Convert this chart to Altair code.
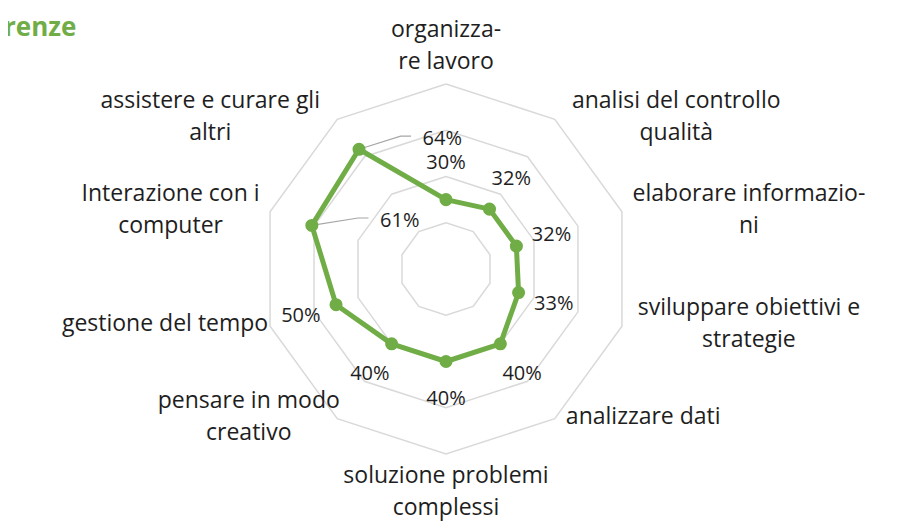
import math
import numpy as np
import pandas as pd
import altair as alt

# ---------------- data ----------------
categories = [
    "organizzare lavoro",
    "analisi del controllo qualità",
    "elaborare informazioni",
    "sviluppare obiettivi e strategie",
    "analizzare dati",
    "soluzione problemi complessi",
    "pensare in modo creativo",
    "gestione del tempo",
    "Interazione con i computer",
    "assistere e curare gli altri",
]
values = [0.30, 0.32, 0.32, 0.33, 0.40, 0.40, 0.40, 0.50, 0.61, 0.64]
label_lines = [
    ["organizza-", "re lavoro"],
    ["analisi del controllo", "qualità"],
    ["elaborare  informazio-", "ni"],
    ["sviluppare obiettivi e", "strategie"],
    ["analizzare dati"],
    ["soluzione problemi", "complessi"],
    ["pensare in modo", "creativo"],
    ["gestione del tempo"],
    ["Interazione con i", "computer"],
    ["assistere e curare gli", "altri"],
]
ring_levels = [0.2, 0.4, 0.6, 0.8]
title_text = "renze"

# ---------------- layout / style ----------------
W, H = 899, 516
CX, CY = 438, 261          # centre of radar in chart pixels
K = 231.25                 # pixels per unit of value
GREEN = "#70AD47"
GRID = "#D9D9D9"
TXT = "#1e1e1e"
FONT = "Open Sans"
CAT_SIZE = 23
VAL_SIZE = 20
CHAR_W = 11.0
LINE_H = 32
GAP = 6
VAL_OFF = 0.16
# manually moved data labels (offset from point in value units) with leader lines
callouts = {8: (0.38, 0.02), 9: (0.36, 0.045)}

xdom = [-CX / K, (W - CX) / K]
ydom = [-(H - CY) / K, CY / K]
N = len(categories)
theta = [2 * math.pi * i / N for i in range(N)]

# grid rings
grid_rows = []
for lv in ring_levels:
    for j in range(N + 1):
        t = theta[j % N]
        grid_rows.append({"ring": lv, "o": j, "x": lv * math.sin(t), "y": lv * math.cos(t)})
grid_df = pd.DataFrame(grid_rows)

# series
ser_rows = []
for j in range(N + 1):
    i = j % N
    ser_rows.append({"o": j, "cat": categories[i], "v": values[i],
                     "x": values[i] * math.sin(theta[i]), "y": values[i] * math.cos(theta[i])})
ser_df = pd.DataFrame(ser_rows)
pt_df = ser_df.iloc[:N]

# value labels
val_rows, lead_rows = [], []
for i in range(N):
    s, c = math.sin(theta[i]), math.cos(theta[i])
    px, py = values[i] * s, values[i] * c
    txt = f"{round(values[i]*100)}%"
    if i in callouts:
        dx, dy = callouts[i]
        lx, ly = px + dx, py + dy
        val_rows.append({"x": lx, "y": ly, "t": txt})
        lead_rows.append({"g": i, "o": 0, "x": px, "y": py})
        lead_rows.append({"g": i, "o": 1, "x": lx - 0.18, "y": ly + 0.012})
        lead_rows.append({"g": i, "o": 2, "x": lx - 0.135, "y": ly + 0.012})
    else:
        r = values[i] + VAL_OFF
        val_rows.append({"x": r * s, "y": r * c, "t": txt})
val_df = pd.DataFrame(val_rows)
lead_df = pd.DataFrame(lead_rows)

# category labels
cat_rows = []
R = ring_levels[-1]
for i in range(N):
    s, c = math.sin(theta[i]), math.cos(theta[i])
    vx, vy = R * s, R * c
    lines = label_lines[i]
    n = len(lines)
    bw = max(len(l) for l in lines) * CHAR_W
    if s > 0.1:
        cx = vx + (GAP + bw / 2) / K
    elif s < -0.1:
        cx = vx - (GAP + bw / 2) / K
    else:
        cx = vx
    if c > 0.9:
        cy = vy + (GAP + n * LINE_H / 2) / K
    elif c < -0.9:
        cy = vy - (GAP + n * LINE_H / 2) / K
    else:
        cy = vy + 2 / K
    for k, l in enumerate(lines):
        cat_rows.append({"x": cx, "y": cy + ((n - 1) / 2 - k) * LINE_H / K, "t": l})
cat_df = pd.DataFrame(cat_rows)

title_df = pd.DataFrame([{"x": (-4 - CX) / K, "y": (CY - 20) / K, "t": title_text}])

X = alt.X("x:Q", scale=alt.Scale(domain=xdom, nice=False, zero=False), axis=None)
Y = alt.Y("y:Q", scale=alt.Scale(domain=ydom, nice=False, zero=False), axis=None)

grid = alt.Chart(grid_df).mark_line(color=GRID, strokeWidth=1.5).encode(
    x=X, y=Y, detail="ring:N", order="o:Q")
line = alt.Chart(ser_df).mark_line(color=GREEN, strokeWidth=5, strokeJoin="round").encode(
    x=X, y=Y, order="o:Q")
pts = alt.Chart(pt_df).mark_circle(color=GREEN, opacity=1, size=170).encode(x=X, y=Y)
leads = alt.Chart(lead_df).mark_line(color="#A6A6A6", strokeWidth=1.2).encode(
    x=X, y=Y, detail="g:N", order="o:Q")
vlabels = alt.Chart(val_df).mark_text(font=FONT, fontSize=VAL_SIZE, color=TXT,
                                      align="center", baseline="middle").encode(x=X, y=Y, text="t:N")
clabels = alt.Chart(cat_df).mark_text(font=FONT, fontSize=CAT_SIZE, color=TXT,
                                      align="center", baseline="middle").encode(x=X, y=Y, text="t:N")
title = alt.Chart(title_df).mark_text(font=FONT, fontSize=26, fontWeight="bold", color=GREEN,
                                      align="left", baseline="middle").encode(x=X, y=Y, text="t:N")

chart = alt.layer(grid, leads, line, pts, vlabels, clabels, title).properties(
    width=W, height=H, padding=0, autosize=alt.AutoSizeParams(type="none")
).configure_view(stroke=None)

chart.save("out.html", embed_options={"renderer": "svg", "actions": False})
